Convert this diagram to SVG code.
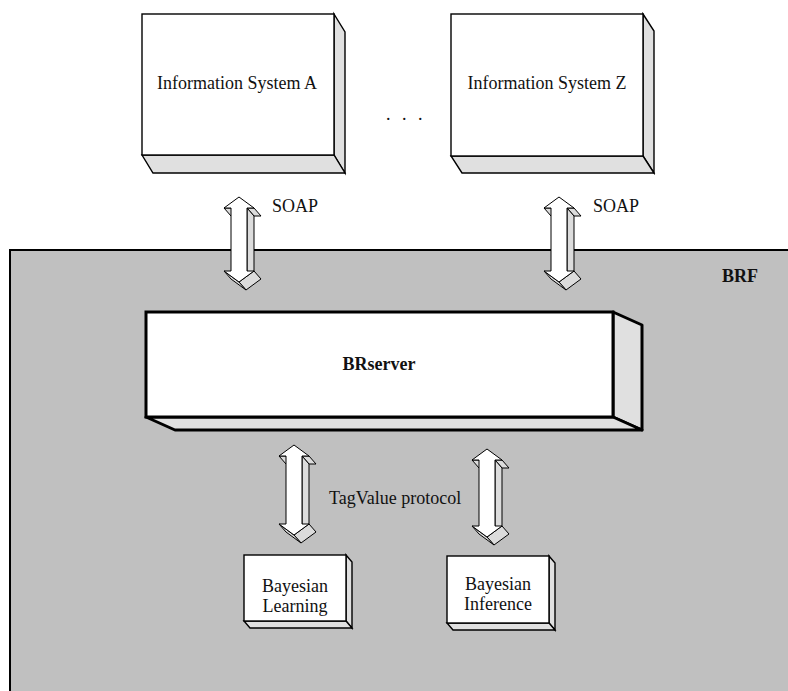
<svg xmlns="http://www.w3.org/2000/svg" width="788" height="691" viewBox="0 0 788 691">
  <style>
    .lbl { font-family: "Liberation Serif", "Times New Roman", serif; font-size: 18px; fill: #111; }
    .bold { font-weight: bold; }
    .front { fill: #ffffff; stroke: #000; stroke-width: 1.4; stroke-linejoin: miter; }
    .side { fill: #e0e0e0; stroke: #000; stroke-width: 1.4; stroke-linejoin: miter; }
    .frontHeavy { fill: #ffffff; stroke: #000; stroke-width: 3; }
    .sideHeavy { fill: #e0e0e0; stroke: #000; stroke-width: 3; stroke-linejoin: round; }
    .arrFront { fill: #ffffff; stroke: #000; stroke-width: 1; }
    .arrSide { fill: #dcdcdc; stroke: #000; stroke-width: 1; }
  </style>

  <rect x="0" y="0" width="788" height="691" fill="#ffffff"/>

  <!-- BRF container panel -->
  <g id="brf">
    <rect x="10" y="250" width="800" height="450" fill="#c0c0c0" stroke="#000" stroke-width="2"/>
    <text class="lbl bold" x="740" y="282" text-anchor="middle" font-size="17">BRF</text>
  </g>

  <!-- Information System A -->
  <g id="infoA">
    <polygon class="side" points="334,14 345,32 345,173 334,155"/>
    <polygon class="side" points="142,155 334,155 345,173 153,173"/>
    <rect class="front" x="142" y="14" width="192" height="141"/>
    <text class="lbl" x="237" y="89" text-anchor="middle" font-size="19.3">Information System A</text>
  </g>

  <!-- ellipsis between systems -->
  <g id="ellipsis">
    <text class="lbl" x="386 402 418" y="120" font-size="20">...</text>
  </g>

  <!-- Information System Z -->
  <g id="infoZ">
    <polygon class="side" points="643,14 654,31 654,173 643,156"/>
    <polygon class="side" points="451,156 643,156 654,173 462,173"/>
    <rect class="front" x="451" y="14" width="192" height="142"/>
    <text class="lbl" x="547" y="89" text-anchor="middle" font-size="19.3">Information System Z</text>
  </g>

  <!-- BRserver -->
  <g id="brserver">
    <polygon class="sideHeavy" points="613,312 642,325 642,430 613,417"/>
    <polygon class="sideHeavy" points="146,417 613,417 642,430 175,430"/>
    <rect class="frontHeavy" x="146" y="312" width="467" height="105"/>
    <text class="lbl bold" x="379" y="370" text-anchor="middle" font-size="19.3">BRserver</text>
  </g>

  <!-- Bayesian Learning -->
  <g id="bayesLearning">
    <polygon class="side" points="346,555 352,562 352,628 346,621"/>
    <polygon class="side" points="244,621 346,621 352,628 250,628"/>
    <rect class="front" x="244" y="555" width="102" height="66"/>
    <text class="lbl" x="295" y="592" text-anchor="middle">Bayesian</text>
    <text class="lbl" x="295" y="612" text-anchor="middle">Learning</text>
  </g>

  <!-- Bayesian Inference -->
  <g id="bayesInference">
    <polygon class="side" points="549,556 555,563 555,630 549,623"/>
    <polygon class="side" points="447,623 549,623 555,630 453,630"/>
    <rect class="front" x="447" y="556" width="102" height="67"/>
    <text class="lbl" x="498" y="590" text-anchor="middle">Bayesian</text>
    <text class="lbl" x="498" y="610" text-anchor="middle">Inference</text>
  </g>

  <!-- 3D double-headed arrows; side faces offset by (7,8) -->
  <g id="connectors">
    <!-- SOAP, system A <-> BRserver : cx=239, tips 197..282 -->
    <g id="soapA">
      <polygon class="arrSide" points="254,208 247,208 254,216 261,216"/>
      <polygon class="arrSide" points="247,208 247,271 254,279 254,216"/>
      <polygon class="arrSide" points="254,271 239,282 246,290 261,279"/>
      <polygon class="arrSide" points="239,282 224,271 231,279 246,290"/>
      <polygon class="arrSide" points="231,208 224,208 231,216 238,216"/>
      <polygon class="arrFront" points="239,197 254,208 247,208 247,271 254,271 239,282 224,271 231,271 231,208 224,208"/>
    </g>
    <!-- SOAP, system Z <-> BRserver : cx=559 -->
    <g id="soapZ">
      <polygon class="arrSide" points="574,208 567,208 574,216 581,216"/>
      <polygon class="arrSide" points="567,208 567,271 574,279 574,216"/>
      <polygon class="arrSide" points="574,271 559,282 566,290 581,279"/>
      <polygon class="arrSide" points="559,282 544,271 551,279 566,290"/>
      <polygon class="arrSide" points="551,208 544,208 551,216 558,216"/>
      <polygon class="arrFront" points="559,197 574,208 567,208 567,271 574,271 559,282 544,271 551,271 551,208 544,208"/>
    </g>
    <!-- TagValue, BRserver <-> Bayesian Learning : cx=294, tips 445..535 -->
    <g id="tagLearning">
      <polygon class="arrSide" points="309,456 302,456 309,464 316,464"/>
      <polygon class="arrSide" points="302,456 302,524 309,532 309,464"/>
      <polygon class="arrSide" points="309,524 294,535 301,543 316,532"/>
      <polygon class="arrSide" points="294,535 279,524 286,532 301,543"/>
      <polygon class="arrSide" points="286,456 279,456 286,464 293,464"/>
      <polygon class="arrFront" points="294,445 309,456 302,456 302,524 309,524 294,535 279,524 286,524 286,456 279,456"/>
    </g>
    <!-- TagValue, BRserver <-> Bayesian Inference : cx=487, tips 449..537 -->
    <g id="tagInference">
      <polygon class="arrSide" points="502,460 495,460 502,468 509,468"/>
      <polygon class="arrSide" points="495,460 495,526 502,534 502,468"/>
      <polygon class="arrSide" points="502,526 487,537 494,545 509,534"/>
      <polygon class="arrSide" points="487,537 472,526 479,534 494,545"/>
      <polygon class="arrSide" points="479,460 472,460 479,468 486,468"/>
      <polygon class="arrFront" points="487,449 502,460 495,460 495,526 502,526 487,537 472,526 479,526 479,460 472,460"/>
    </g>
    <text class="lbl" x="272" y="212" font-size="16">SOAP</text>
    <text class="lbl" x="593" y="212" font-size="16">SOAP</text>
    <text class="lbl" x="329" y="504">TagValue protocol</text>
  </g>
</svg>
